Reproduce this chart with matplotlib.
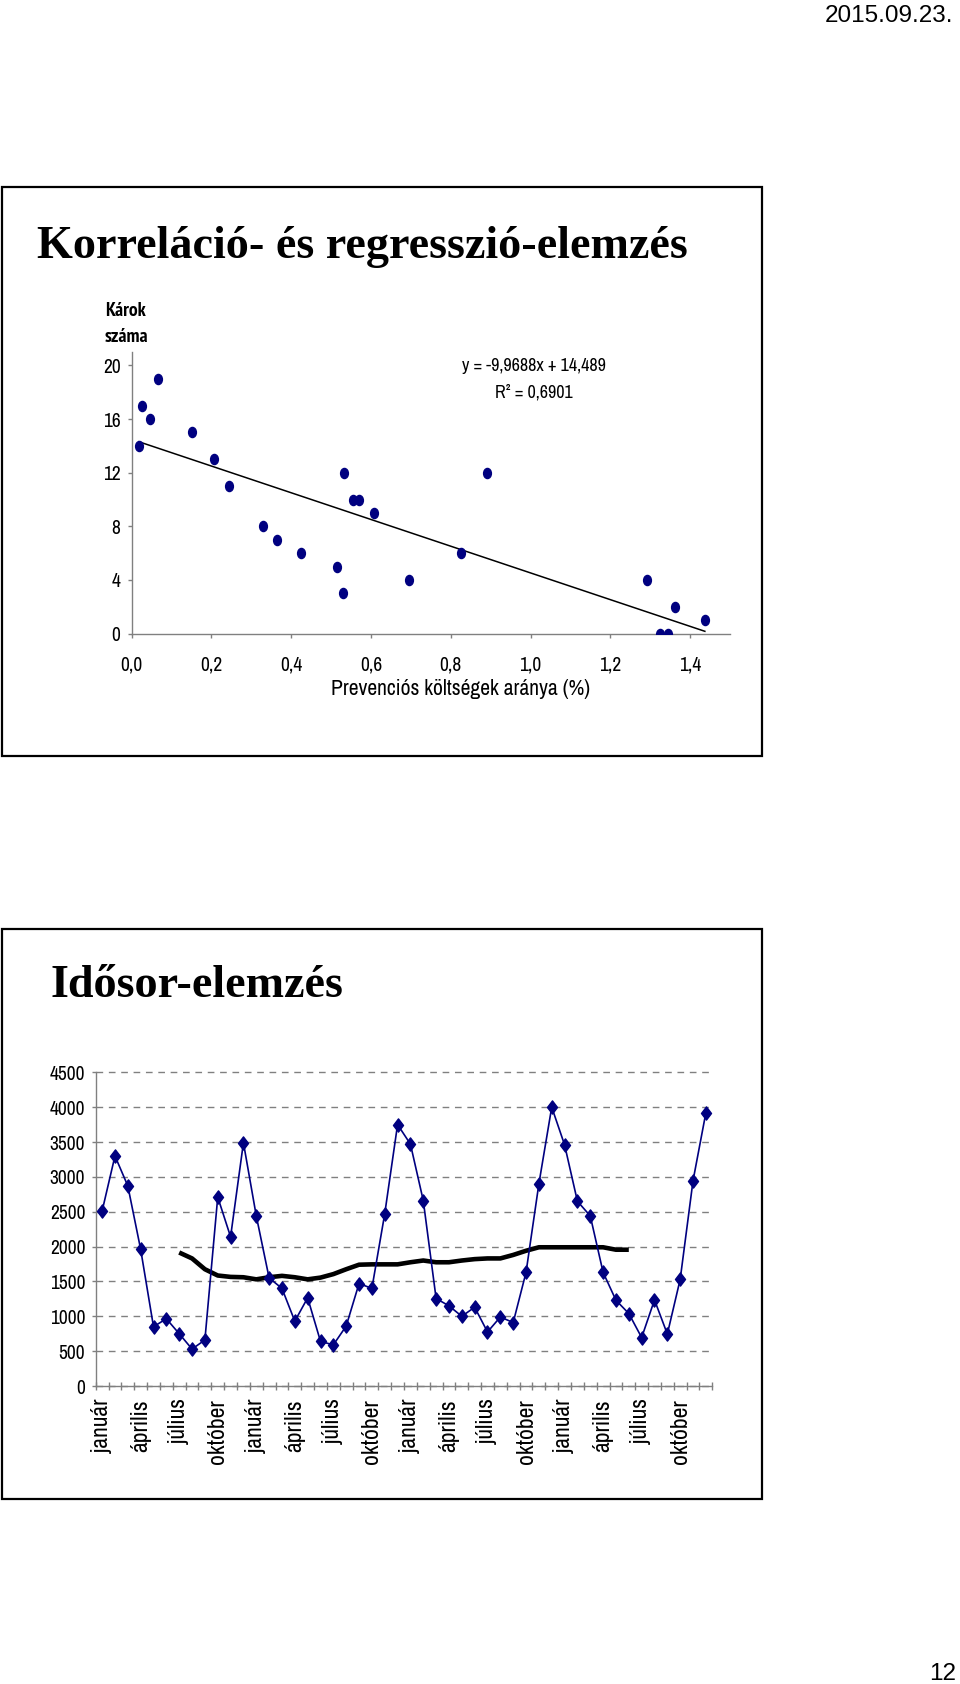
import os
import numpy as np
import matplotlib
matplotlib.use('Agg')
import matplotlib.pyplot as plt
from matplotlib import font_manager
from matplotlib.font_manager import FontProperties
from matplotlib.path import Path
from matplotlib.patches import Rectangle

# scatter: prevention cost ratio vs number of claims
prev_x = [0.018, 0.025, 0.046, 0.065, 0.150, 0.206, 0.243, 0.328, 0.365, 0.425,
          0.514, 0.531, 0.533, 0.554, 0.570, 0.607, 0.696, 0.826, 0.890, 1.292,
          1.325, 1.344, 1.363, 1.437]
karok = [14, 17, 16, 19, 15, 13, 11, 8, 7, 6,
         5, 3, 12, 10, 10, 9, 4, 6, 12, 4,
         0, 0, 2, 1]
slope = -9.9688
intercept = 14.489
sc_xticks = [0.0, 0.2, 0.4, 0.6, 0.8, 1.0, 1.2, 1.4]
sc_xlabels = ['0,0', '0,2', '0,4', '0,6', '0,8', '1,0', '1,2', '1,4']
sc_yticks = [0, 4, 8, 12, 16, 20]

# time series, 4 years of monthly values
ev1 = [2510, 3300, 2870, 1960, 850, 965, 750, 530, 660, 2710, 2140, 3490]
ev2 = [2440, 1550, 1400, 930, 1265, 640, 590, 860, 1470, 1400, 2470, 3750]
ev3 = [3470, 2660, 1255, 1150, 1000, 1130, 775, 990, 910, 1630, 2900, 4000]
ev4 = [3460, 2650, 2440, 1630, 1230, 1040, 695, 1235, 745, 1530, 2945, 3920]
sales = ev1 + ev2 + ev3 + ev4
# 12 month centred moving average, starts at the 7th month
ma_start = 6
mozgo = [1915, 1830, 1675, 1585, 1565, 1560, 1530, 1560, 1580, 1560, 1530, 1555,
         1605, 1675, 1740, 1745, 1745, 1745, 1775, 1800, 1775, 1775, 1800, 1820,
         1830, 1830, 1880, 1940, 1990, 1990, 1990, 1990, 1990, 1990, 1955, 1955]
honapok = ['január', 'április', 'július', 'október'] * 4
ts_yticks = [0, 500, 1000, 1500, 2000, 2500, 3000, 3500, 4000, 4500]


def weight_num(w):
    if isinstance(w, (int, float)):
        return w
    return font_manager.weight_dict.get(w, 400)


def find_narrow(bold):
    # look for an Arial Narrow like face; None if nothing installed
    best = None
    for f in font_manager.fontManager.ttflist:
        if f.style != 'normal':
            continue
        w = weight_num(f.weight)
        if bold and not (600 <= w <= 750):
            continue
        if not bold and not (350 <= w <= 500):
            continue
        nm = f.name.lower()
        fn = os.path.basename(f.fname).lower()
        st = str(f.stretch).lower()
        bad = any(b in nm + fn for b in ['extra', 'ultra', 'semi', 'mono', 'serif', 'display'])
        if 'narrow' in nm or 'narrow' in fn:
            score = 0
        elif bad:
            continue
        elif 'condensed' in nm or 'condensed' in fn or st == 'condensed':
            score = 1
        else:
            continue
        if best is None or score < best[0]:
            best = (score, f.fname)
    return None if best is None else best[1]


nreg = find_narrow(False)
nbold = find_narrow(True)
if nreg:
    fp_n = FontProperties(fname=nreg)
    fp_nb = FontProperties(fname=nbold) if nbold else FontProperties(fname=nreg, weight='bold')
    k = 1.0
else:
    fp_n = FontProperties(family='Liberation Sans')
    fp_nb = FontProperties(family='Liberation Sans', weight='bold')
    k = 0.84


def nfont(size, bold=False):
    p = (fp_nb if bold else fp_n).copy()
    p.set_size(size * k)
    return p


SERIF = 'Liberation Serif'
SANS = 'Liberation Sans'
navy = '#000080'
grey = '#808080'

W, H = 960, 1684
fig = plt.figure(figsize=(W / 100, H / 100), dpi=100)

# page layer in pixel coordinates
page = fig.add_axes([0, 0, 1, 1], zorder=0)
page.set_xlim(0, W)
page.set_ylim(H, 0)
page.axis('off')
page.add_patch(Rectangle((2, 186.5), 760, 569, fill=False, ec='black', lw=1.6))
page.add_patch(Rectangle((2, 929), 760, 569.5, fill=False, ec='black', lw=1.6))
page.text(953, 22, '2015.09.23.', ha='right', va='baseline', family=SANS, fontsize=17.5)
page.text(956, 1680, '12', ha='right', va='baseline', family=SANS, fontsize=17.5)
page.text(37, 258, 'Korreláció- és regresszió-elemzés', ha='left', va='baseline',
          family=SERIF, weight='bold', fontsize=33.2)
page.text(50, 997, 'Idősor-elemzés', ha='left', va='baseline',
          family=SERIF, weight='bold', fontsize=33.2)
page.text(125, 311, 'Károk', ha='center', va='center', fontproperties=nfont(14, True))
page.text(126, 337, 'száma', ha='center', va='center', fontproperties=nfont(14, True))
page.text(534, 366, 'y = -9,9688x + 14,489', ha='center', va='center', fontproperties=nfont(13))
page.text(534, 392, 'R² = 0,6901', ha='center', va='center', fontproperties=nfont(13))
page.text(461, 689, 'Prevenciós költségek aránya (%)', ha='center', va='center',
          fontproperties=nfont(15.5))

# elliptical markers (the page is stretched vertically)
circ = Path.unit_circle()
ellipse = Path(circ.vertices * [0.77, 1.0], circ.codes)
diamond = Path([(0, 1), (0.76, 0), (0, -1), (-0.76, 0), (0, 1)],
               [Path.MOVETO, Path.LINETO, Path.LINETO, Path.LINETO, Path.CLOSEPOLY])

# scatter chart
ax1 = fig.add_axes([131.7 / W, (H - 633.5) / H, 598.3 / W, 281.4 / H], zorder=2)
ax1.patch.set_alpha(0)
ax1.plot(prev_x, karok, ls='none', marker=ellipse, ms=7.3, color=navy, mec=navy, zorder=3)
xs = np.array([min(prev_x), max(prev_x)])
ax1.plot(xs, slope * xs + intercept, color='black', lw=1.1, zorder=2)
ax1.set_xlim(0, 1.5)
ax1.set_ylim(0, 21)
ax1.set_xticks(sc_xticks)
ax1.set_xticklabels(sc_xlabels)
ax1.set_yticks(sc_yticks)
for s in ['top', 'right']:
    ax1.spines[s].set_visible(False)
for s in ['left', 'bottom']:
    ax1.spines[s].set_color(grey)
    ax1.spines[s].set_linewidth(1.0)
ax1.tick_params(axis='both', colors=grey, labelcolor='black', length=3, width=1.0)
ax1.tick_params(axis='x', pad=12.5)
ax1.tick_params(axis='y', pad=5)
for lab in ax1.get_xticklabels() + ax1.get_yticklabels():
    lab.set_fontproperties(nfont(14))

# time series chart
ax2 = fig.add_axes([95.7 / W, (H - 1386) / H, 616.6 / W, 313.7 / H], zorder=2)
ax2.patch.set_alpha(0)
idx = np.arange(len(sales))
ax2.plot(idx, sales, color=navy, lw=1.2, marker=diamond, ms=9.5, mfc=navy, mec=navy, zorder=3)
ax2.plot(np.arange(ma_start, ma_start + len(mozgo)), mozgo, color='black', lw=3.3,
         solid_capstyle='butt', zorder=2)
ax2.set_xlim(-0.5, len(sales) - 0.5)
ax2.set_ylim(0, 4500)
ax2.set_yticks(ts_yticks)
ax2.set_xticks(idx[::3])
ax2.set_xticklabels(honapok, rotation=90)
ax2.set_xticks(np.arange(-0.5, len(sales)), minor=True)
ax2.grid(axis='y', color=grey, lw=1.0, ls=(0, (4.8, 4.1)))
for gl in ax2.get_ygridlines():
    gl.set_clip_on(False)
for s in ['top', 'right']:
    ax2.spines[s].set_visible(False)
for s in ['left', 'bottom']:
    ax2.spines[s].set_color(grey)
    ax2.spines[s].set_linewidth(1.0)
ax2.tick_params(axis='x', which='major', length=0, pad=9.5, labelcolor='black')
ax2.tick_params(axis='x', which='minor', direction='inout', length=6, width=1.0, color=grey)
ax2.tick_params(axis='y', colors=grey, labelcolor='black', length=3, width=1.0, pad=4.5)
for lab in ax2.get_yticklabels():
    lab.set_fontproperties(nfont(14))
for lab in ax2.get_xticklabels():
    lab.set_fontproperties(nfont(17))

fig.savefig('out.png', dpi=100)
